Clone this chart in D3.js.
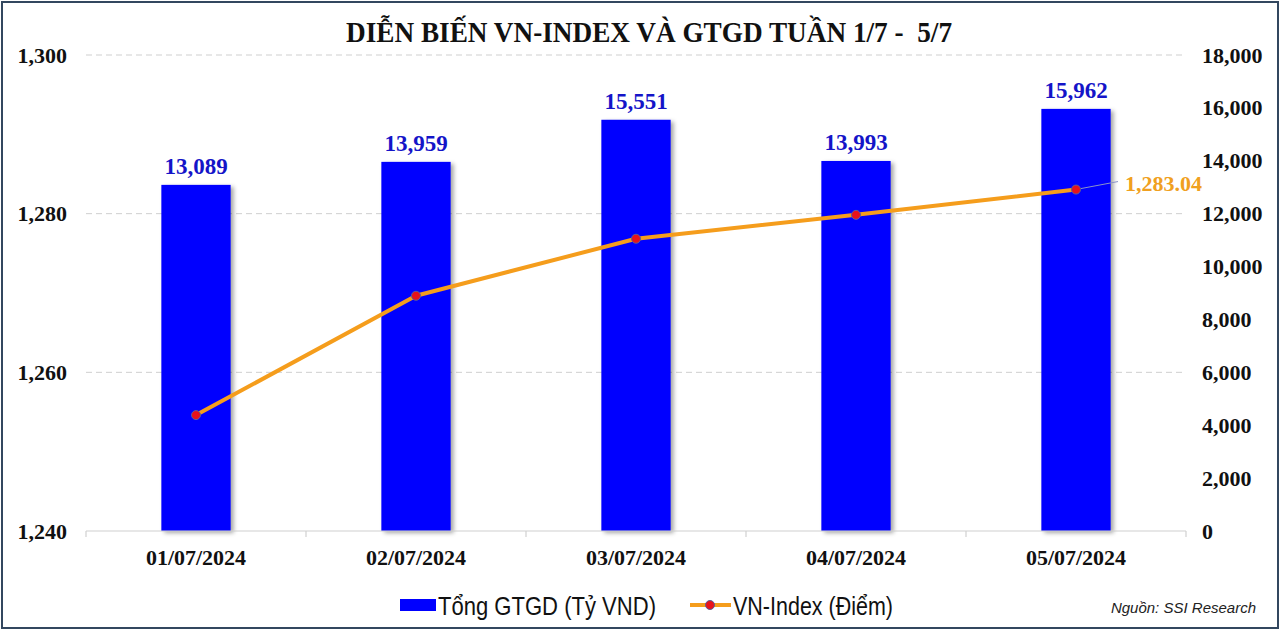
<!DOCTYPE html>
<html>
<head>
<meta charset="utf-8">
<script src="https://cdn.jsdelivr.net/npm/d3@7"></script>
<style>
  html, body { margin: 0; padding: 0; background: #fff; }
  svg { display: block; }
</style>
</head>
<body>
<div id="chart_area"></div>
<script>
// data
const dates = ['01/07/2024', '02/07/2024', '03/07/2024', '04/07/2024', '05/07/2024'];
const gtgd = [13089, 13959, 15551, 13993, 15962];
const vnIndex = [1254.61, 1269.65, 1276.84, 1279.85, 1283.04];
const leftTicks = [1240, 1260, 1280, 1300];
const rightTicks = [0, 2000, 4000, 6000, 8000, 10000, 12000, 14000, 16000, 18000];

const W = 1280, H = 630;
const plot = { left: 86, right: 1186, top: 55, bottom: 531 };
const serif = '"Liberation Serif", "Times New Roman", serif';
const sans = '"Liberation Sans", Arial, sans-serif';
const fmt = d3.format(',');

const svg = d3.select('#chart_area')
  .append('svg')
  .attr('width', W)
  .attr('height', H);

const defs = svg.append('defs');
defs.append('filter')
  .attr('id', 'shadow')
  .attr('x', '-20%').attr('y', '-10%')
  .attr('width', '150%').attr('height', '130%')
  .append('feDropShadow')
  .attr('dx', 3).attr('dy', 2)
  .attr('stdDeviation', 2.2)
  .attr('flood-color', '#000')
  .attr('flood-opacity', 0.35);

// outer frame
svg.append('rect')
  .attr('x', 2).attr('y', 2)
  .attr('width', W - 4).attr('height', H - 4)
  .attr('fill', '#fff')
  .attr('stroke', '#33475f')
  .attr('stroke-width', 2);

const x = d3.scaleBand().domain(dates).range([plot.left, plot.right]).padding(0);
const yL = d3.scaleLinear().domain([1240, 1300]).range([plot.bottom, plot.top]);
const yR = d3.scaleLinear().domain([0, 18000]).range([plot.bottom, plot.top]);
const barW = x.bandwidth() * 0.315;
const cx = (d) => x(d) + x.bandwidth() / 2;

// dashed gridlines on the left axis ticks
svg.append('g')
  .selectAll('line')
  .data(leftTicks.filter((t) => t > 1240))
  .join('line')
  .attr('x1', plot.left)
  .attr('x2', plot.right)
  .attr('y1', (d) => yL(d))
  .attr('y2', (d) => yL(d))
  .attr('stroke', '#cfcfcf')
  .attr('stroke-width', 1)
  .attr('stroke-dasharray', '6,4');

// left axis
const leftAxis = svg.append('g')
  .attr('transform', 'translate(' + plot.left + ',0)')
  .call(d3.axisLeft(yL).tickValues(leftTicks).tickSize(0).tickPadding(19).tickFormat(fmt));
leftAxis.select('.domain').remove();
leftAxis.selectAll('text')
  .attr('font-family', serif)
  .attr('font-weight', 'bold')
  .attr('font-size', 22)
  .attr('fill', '#111');

// right axis
const rightAxis = svg.append('g')
  .attr('transform', 'translate(' + plot.right + ',0)')
  .call(d3.axisRight(yR).tickValues(rightTicks).tickSize(0).tickPadding(16).tickFormat(fmt));
rightAxis.select('.domain').remove();
rightAxis.selectAll('text')
  .attr('font-family', serif)
  .attr('font-weight', 'bold')
  .attr('font-size', 22)
  .attr('fill', '#111');

// bars
svg.append('g')
  .selectAll('rect')
  .data(gtgd)
  .join('rect')
  .attr('x', (d, i) => cx(dates[i]) - barW / 2)
  .attr('y', (d) => yR(d))
  .attr('width', barW)
  .attr('height', (d) => plot.bottom - yR(d))
  .attr('fill', '#0000ff')
  .attr('filter', 'url(#shadow)');

// bar labels
svg.append('g')
  .selectAll('text')
  .data(gtgd)
  .join('text')
  .attr('x', (d, i) => cx(dates[i]))
  .attr('y', (d) => yR(d) - 11)
  .attr('text-anchor', 'middle')
  .attr('font-family', serif)
  .attr('font-weight', 'bold')
  .attr('font-size', 23)
  .attr('fill', '#1414c8')
  .text((d) => fmt(d));

// x axis
const xAxis = svg.append('g')
  .attr('transform', 'translate(0,' + plot.bottom + ')');
xAxis.append('line')
  .attr('x1', plot.left).attr('x2', plot.right)
  .attr('stroke', '#d0d0d0').attr('stroke-width', 1.2);
xAxis.selectAll('.tick-mark')
  .data(dates.concat(['end']))
  .join('line')
  .attr('class', 'tick-mark')
  .attr('x1', (d) => (d === 'end' ? plot.right : x(d)))
  .attr('x2', (d) => (d === 'end' ? plot.right : x(d)))
  .attr('y1', 0).attr('y2', 6)
  .attr('stroke', '#d0d0d0').attr('stroke-width', 1.2);
xAxis.selectAll('text')
  .data(dates)
  .join('text')
  .attr('x', (d) => cx(d))
  .attr('y', 34)
  .attr('text-anchor', 'middle')
  .attr('font-family', serif)
  .attr('font-weight', 'bold')
  .attr('font-size', 22)
  .attr('fill', '#111')
  .text((d) => d);

// VN-Index line
const line = d3.line()
  .x((d, i) => cx(dates[i]))
  .y((d) => yL(d));
svg.append('path')
  .datum(vnIndex)
  .attr('d', line)
  .attr('fill', 'none')
  .attr('stroke', '#f59d1c')
  .attr('stroke-width', 4)
  .attr('stroke-linejoin', 'round');
svg.append('g')
  .selectAll('circle')
  .data(vnIndex)
  .join('circle')
  .attr('cx', (d, i) => cx(dates[i]))
  .attr('cy', (d) => yL(d))
  .attr('r', 4.5)
  .attr('fill', '#e8121b')
  .attr('stroke', '#5a5f9a')
  .attr('stroke-width', 1);

// label for the last index point with a leader line
const last = vnIndex.length - 1;
const lx = cx(dates[last]), ly = yL(vnIndex[last]);
svg.append('line')
  .attr('x1', lx + 5).attr('y1', ly - 1)
  .attr('x2', lx + 42).attr('y2', ly - 8)
  .attr('stroke', '#8a93c8').attr('stroke-width', 1);
svg.append('text')
  .attr('x', lx + 49)
  .attr('y', ly + 1)
  .attr('font-family', serif)
  .attr('font-weight', 'bold')
  .attr('font-size', 22)
  .attr('fill', '#f0a020')
  .text(d3.format(',.2f')(vnIndex[last]));

// title
svg.append('text')
  .attr('x', 346)
  .attr('y', 42)
  .attr('font-family', serif)
  .attr('font-weight', 'bold')
  .attr('font-size', 29)
  .attr('fill', '#111')
  .attr('xml:space', 'preserve')
  .attr('textLength', 606)
  .attr('lengthAdjust', 'spacingAndGlyphs')
  .text('DIỄN BIẾN VN-INDEX VÀ GTGD TUẦN 1/7 -  5/7');

// legend
const legend = svg.append('g').attr('transform', 'translate(0,605)');
legend.append('rect')
  .attr('x', 400).attr('y', -6)
  .attr('width', 36).attr('height', 12)
  .attr('fill', '#0000ff');
legend.append('text')
  .attr('x', 438).attr('y', 10)
  .attr('font-family', sans)
  .attr('font-size', 26)
  .attr('fill', '#111')
  .attr('textLength', 218)
  .attr('lengthAdjust', 'spacingAndGlyphs')
  .text('Tổng GTGD (Tỷ VND)');
legend.append('line')
  .attr('x1', 690).attr('x2', 731)
  .attr('stroke', '#f59d1c').attr('stroke-width', 4);
legend.append('circle')
  .attr('cx', 710).attr('r', 4.5)
  .attr('fill', '#e8121b')
  .attr('stroke', '#5a5f9a').attr('stroke-width', 1);
legend.append('text')
  .attr('x', 733).attr('y', 10)
  .attr('font-family', sans)
  .attr('font-size', 26)
  .attr('fill', '#111')
  .attr('textLength', 160)
  .attr('lengthAdjust', 'spacingAndGlyphs')
  .text('VN-Index (Điểm)');

svg.append('text')
  .attr('x', 1256).attr('y', 613)
  .attr('text-anchor', 'end')
  .attr('font-family', sans)
  .attr('font-style', 'italic')
  .attr('font-size', 15)
  .attr('fill', '#222')
  .text('Nguồn: SSI Research');
</script>
</body>
</html>
